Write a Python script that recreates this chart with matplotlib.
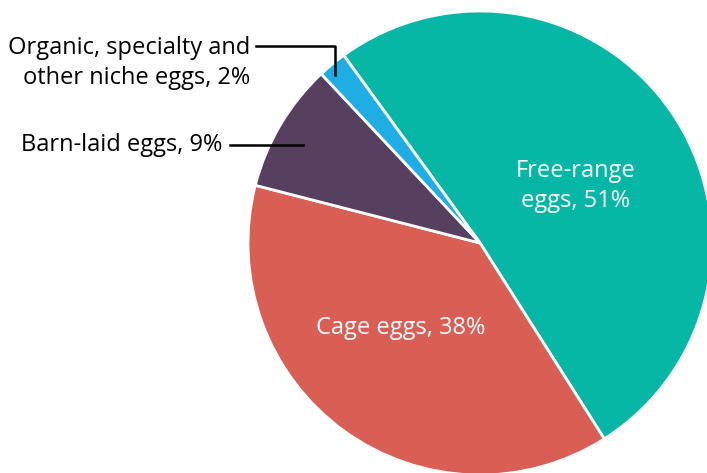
import matplotlib.pyplot as plt

categories = ['Free-range eggs', 'Cage eggs', 'Barn-laid eggs',
              'Organic, specialty and other niche eggs']
shares = [51, 38, 9, 2]
colors = ['#07b7a5', '#d95f55', '#563f5f', '#1eaee3']

plt.rcParams['font.family'] = ['Open Sans', 'DejaVu Sans']

fig = plt.figure(figsize=(7.07, 4.73), dpi=100)
ax = fig.add_axes([0, 0, 1, 1])

# pixel-ish coordinates, y measured from bottom
cx, cy, r = 480, 230, 232
ax.pie(shares, colors=colors, startangle=126, counterclock=False,
       center=(cx, cy), radius=r, frame=True,
       wedgeprops=dict(edgecolor='white', linewidth=2))
ax.set_xlim(0, 707)
ax.set_ylim(0, 473)
ax.set_aspect('equal')
ax.axis('off')

# inside labels
ax.text(576, 287, 'Free-range\neggs, %d%%' % shares[0], color='white',
        ha='center', va='center', fontsize=17, linespacing=1.28)
ax.text(401, 145, 'Cage eggs, %d%%' % shares[1], color='white',
        ha='center', va='center', fontsize=17)

# outside labels with leader lines
ax.text(222, 328, 'Barn-laid eggs, %d%%' % shares[2], color='black',
        ha='right', va='center', fontsize=17)
ax.plot([230, 303], [328, 328], color='black', lw=1.8)

ax.text(250, 410, 'Organic, specialty and\nother niche eggs, %d%%' % shares[3],
        color='black', ha='right', va='center', fontsize=17, linespacing=1.3,
        multialignment='right')
ax.plot([256, 335, 335], [427, 427, 398], color='black', lw=1.8)

fig.savefig('out.png', dpi=100)
